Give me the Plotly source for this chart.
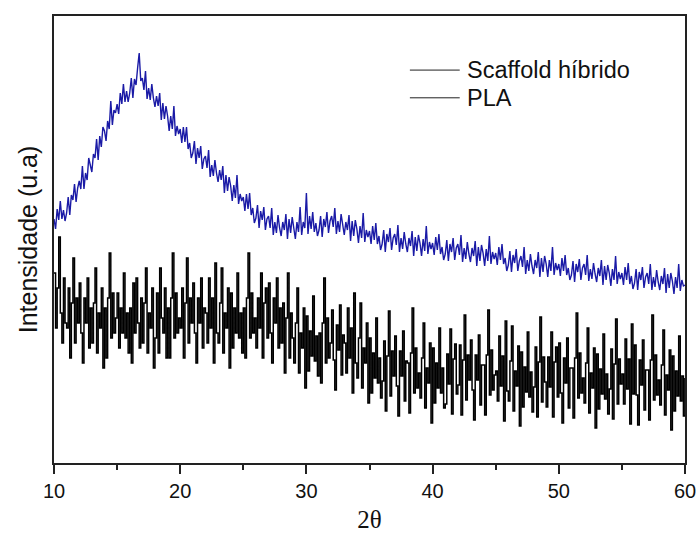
import plotly.graph_objects as go

# 2theta grid: 10 to 60 in 0.125 steps
two_theta = [10 + 0.125 * i for i in range(401)]

# Scaffold híbrido (blue), arbitrary units (one row per degree)
scaffold = [
    244, 234, 254, 243, 262, 244, 253, 242,
    250, 266, 248, 268, 263, 279, 261, 275,
    282, 274, 297, 274, 290, 283, 305, 296,
    291, 309, 305, 324, 303, 327, 316, 336,
    332, 322, 342, 334, 362, 338, 353, 350,
    359, 349, 370, 359, 379, 361, 372, 361,
    370, 385, 365, 384, 378, 395, 410, 382,
    385, 373, 392, 364, 375, 363, 379, 365,
    356, 367, 357, 370, 343, 360, 344, 357,
    347, 332, 347, 334, 357, 327, 337, 329,
    334, 320, 336, 321, 336, 314, 320, 305,
    310, 322, 299, 315, 305, 317, 294, 304,
    307, 295, 313, 286, 298, 287, 303, 290,
    281, 293, 283, 297, 270, 288, 272, 286,
    277, 262, 278, 265, 288, 259, 269, 262,
    266, 252, 269, 254, 270, 248, 255, 240,
    245, 258, 235, 252, 243, 256, 233, 244,
    247, 235, 255, 228, 241, 230, 248, 235,
    227, 241, 233, 249, 224, 244, 230, 246,
    237, 224, 241, 231, 256, 228, 241, 235,
    270, 229, 247, 234, 251, 231, 240, 227,
    233, 247, 226, 244, 236, 251, 230, 242,
    247, 236, 255, 229, 242, 231, 249, 237,
    228, 241, 233, 248, 222, 242, 227, 243,
    234, 220, 237, 225, 250, 221, 233, 226,
    232, 219, 237, 223, 240, 219, 227, 213,
    219, 233, 211, 229, 221, 235, 213, 225,
    229, 218, 238, 211, 225, 214, 231, 219,
    211, 225, 217, 232, 207, 226, 212, 228,
    220, 207, 224, 212, 237, 209, 221, 214,
    220, 208, 226, 213, 229, 209, 216, 203,
    209, 223, 202, 219, 211, 225, 203, 215,
    219, 208, 228, 201, 215, 204, 221, 209,
    201, 215, 207, 222, 197, 216, 202, 218,
    210, 197, 214, 202, 227, 199, 211, 204,
    210, 198, 216, 203, 219, 199, 205, 192,
    198, 212, 191, 208, 200, 214, 192, 202,
    207, 196, 216, 189, 203, 192, 209, 197,
    189, 203, 195, 211, 186, 205, 191, 207,
    199, 186, 203, 192, 216, 188, 200, 193,
    199, 187, 205, 192, 208, 188, 195, 183,
    188, 202, 181, 199, 191, 204, 183, 195,
    199, 188, 208, 182, 194, 184, 200, 189,
    181, 195, 187, 203, 178, 197, 183, 198,
    190, 177, 194, 183, 207, 179, 191, 184,
    190, 178, 196, 183, 200, 179, 187, 174,
    180, 194, 173, 191, 183, 196, 175, 186,
    190, 179, 199, 173, 186, 176, 193, 181,
    173, 187, 179, 195, 170, 189, 175, 190,
    182, 169, 186, 175, 199, 172, 183, 177,
    178,
]

# PLA (black), arbitrary units (one row per degree)
pla = [
    190, 135, 175, 226, 150, 120, 185, 140,
    135, 175, 105, 160, 205, 120, 165, 140,
    180, 130, 100, 165, 140, 185, 115, 155,
    120, 160, 195, 110, 150, 135, 175, 95,
    155, 105, 165, 210, 125, 170, 130, 145,
    170, 115, 155, 130, 190, 125, 150, 110,
    155, 100, 180, 130, 185, 140, 115, 165,
    120, 160, 195, 110, 150, 135, 175, 95,
    125, 170, 110, 195, 145, 130, 175, 105,
    155, 105, 165, 210, 125, 170, 130, 145,
    135, 175, 105, 160, 205, 120, 165, 140,
    180, 130, 100, 165, 140, 185, 115, 155,
    150, 120, 185, 135, 165, 100, 200, 130,
    120, 160, 195, 110, 150, 135, 175, 95,
    170, 115, 155, 130, 190, 125, 150, 110,
    155, 105, 165, 210, 125, 170, 130, 145,
    115, 165, 135, 190, 105, 160, 175, 125,
    180, 130, 100, 165, 140, 185, 115, 155,
    120, 160, 90, 145, 190, 105, 150, 125,
    100, 140, 175, 90, 130, 115, 155, 75,
    147, 92, 132, 107, 167, 102, 127, 87,
    130, 80, 140, 185, 100, 145, 105, 120,
    153, 103, 73, 138, 113, 158, 88, 128,
    120, 90, 155, 105, 135, 70, 170, 100,
    85, 125, 160, 75, 115, 100, 140, 60,
    125, 70, 110, 85, 145, 80, 105, 65,
    82, 122, 52, 107, 152, 67, 112, 87,
    127, 77, 47, 112, 87, 132, 62, 102,
    100, 50, 110, 155, 70, 115, 75, 90,
    65, 105, 140, 55, 95, 80, 120, 40,
    115, 60, 100, 75, 135, 70, 95, 55,
    59, 109, 79, 134, 49, 104, 119, 69,
    78, 118, 48, 103, 148, 63, 108, 83,
    123, 73, 43, 108, 83, 128, 58, 98,
    98, 48, 108, 153, 68, 113, 73, 88,
    92, 62, 127, 77, 107, 42, 142, 72,
    62, 102, 137, 52, 92, 77, 117, 37,
    111, 56, 96, 71, 131, 66, 91, 51,
    76, 116, 46, 101, 146, 61, 106, 81,
    56, 106, 76, 131, 46, 101, 116, 66,
    120, 70, 40, 105, 80, 125, 55, 95,
    95, 45, 105, 150, 65, 110, 70, 85,
    60, 100, 135, 50, 90, 75, 115, 35,
    109, 54, 94, 69, 129, 64, 89, 49,
    74, 114, 44, 99, 144, 59, 104, 79,
    89, 59, 124, 74, 104, 39, 139, 69,
    118, 68, 38, 103, 78, 123, 53, 93,
    93, 43, 103, 148, 63, 108, 68, 83,
    58, 98, 133, 48, 88, 73, 113, 33,
    107, 52, 92, 67, 127, 62, 87, 47,
    85,
]

x_ticks = [10, 20, 30, 40, 50, 60]
legend_names = ["Scaffold híbrido", "PLA"]

fig = go.Figure()
fig.add_trace(go.Scatter(x=two_theta, y=pla, mode="lines",
                         line=dict(color="black", width=1.5, shape="hv"),
                         name=legend_names[1], showlegend=False))
fig.add_trace(go.Scatter(x=two_theta, y=scaffold, mode="lines",
                         line=dict(color="#1a1aa6", width=1.4),
                         name=legend_names[0], showlegend=False))

# legend drawn manually (both legend lines are black in the original)
leg_y = [0.879, 0.817]
for name, yy in zip(legend_names, leg_y):
    fig.add_shape(type="line", xref="paper", yref="paper", x0=0.564, x1=0.643, y0=yy, y1=yy,
                  line=dict(color="#202020", width=1))
    fig.add_annotation(xref="paper", yref="paper", x=0.652, y=yy, text=name, showarrow=False,
                       xanchor="left", yanchor="middle",
                       font=dict(family="Arial", size=23.5, color="#111"))

fig.update_layout(
    width=699, height=542,
    margin=dict(l=54, r=14, t=16, b=79),
    plot_bgcolor="white", paper_bgcolor="white",
    showlegend=False,
    font=dict(family="Arial", color="#111"),
)
fig.update_xaxes(range=[10, 60], tickvals=x_ticks, ticks="outside", ticklen=9, tickwidth=1.5,
                 tickcolor="#222", showline=True, linecolor="#222", linewidth=1.5, mirror=True,
                 showgrid=False, zeroline=False, tickfont=dict(size=20, family="Arial"),
                 automargin=False,
                 minor=dict(dtick=5, ticks="outside", ticklen=5, tickwidth=1.5, tickcolor="#222"),
                 title=dict(text="2θ", font=dict(family="Liberation Serif", size=25), standoff=10))
fig.update_yaxes(range=[0, 447], showticklabels=False, ticks="", showline=True, linecolor="#222",
                 linewidth=1.5, mirror=True, showgrid=False, zeroline=False, automargin=False,
                 title=dict(text="Intensidade (u.a)", font=dict(family="Arial", size=25), standoff=8))

fig.write_html("out.html", config={"displayModeBar": False},
               post_script="document.body.style.margin='0';document.body.style.overflow='hidden';")
